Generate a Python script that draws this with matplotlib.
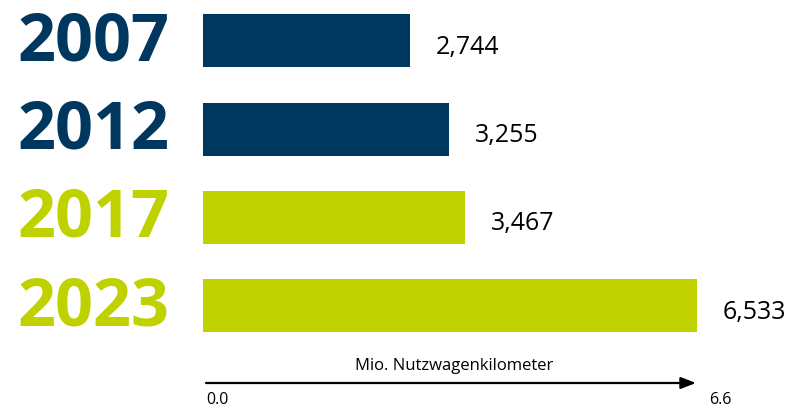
import matplotlib
matplotlib.use("Agg")
import matplotlib.pyplot as plt

years = ["2007", "2012", "2017", "2023"]
values = [2.744, 3.255, 3.467, 6.533]
value_labels = ["2,744", "3,255", "3,467", "6,533"]
colors = ["#00375E", "#00375E", "#BFD200", "#BFD200"]
axis_label = "Mio. Nutzwagenkilometer"
x_min, x_max = 0.0, 6.6

W, H = 787, 409
fig = plt.figure(figsize=(W / 100, H / 100), dpi=100)
fig.patch.set_facecolor("white")

left_px, right_px = 203, 702
ax = fig.add_axes([left_px / W, 1 - 350 / H, (right_px - left_px) / W, 350 / H])
ax.set_xlim(x_min, x_max)
ax.set_ylim(3.5, -0.464)
ax.axis("off")

pos = list(range(len(years)))
ax.barh(pos, values, height=0.6, color=colors)

fam = ["Open Sans", "DejaVu Sans"]
for i, (yr, v, lab, c) in enumerate(zip(years, values, value_labels, colors)):
    ax.text(-0.44, i + 0.02, yr, ha="right", va="center", fontsize=48,
            fontweight="bold", color=c, family=fam, clip_on=False)
    ax.text(v + 0.34, i + 0.07, lab, ha="left", va="center", fontsize=18,
            color="black", family=fam, clip_on=False)

# axis arrow
y_arrow = 1 - 383 / H
ax.annotate("", xy=(6.52, y_arrow), xytext=(0.04, y_arrow),
            xycoords=("data", "figure fraction"),
            textcoords=("data", "figure fraction"),
            arrowprops=dict(arrowstyle="-|>,head_length=0.9,head_width=0.35",
                            color="black", lw=1.6, shrinkA=0, shrinkB=0),
            annotation_clip=False)
ax.annotate(axis_label, xy=(3.32, 1 - 366 / H), xycoords=("data", "figure fraction"),
            ha="center", va="center", fontsize=12, family=fam,
            annotation_clip=False)
ax.annotate(f"{x_min:.1f}", xy=(0.04, 1 - 400 / H), xycoords=("data", "figure fraction"),
            ha="left", va="center", fontsize=11.5, family=fam,
            annotation_clip=False)
ax.annotate(f"{x_max:.1f}", xy=(6.7, 1 - 400 / H), xycoords=("data", "figure fraction"),
            ha="left", va="center", fontsize=11.5, family=fam,
            annotation_clip=False)

fig.savefig("out.png", dpi=100)
